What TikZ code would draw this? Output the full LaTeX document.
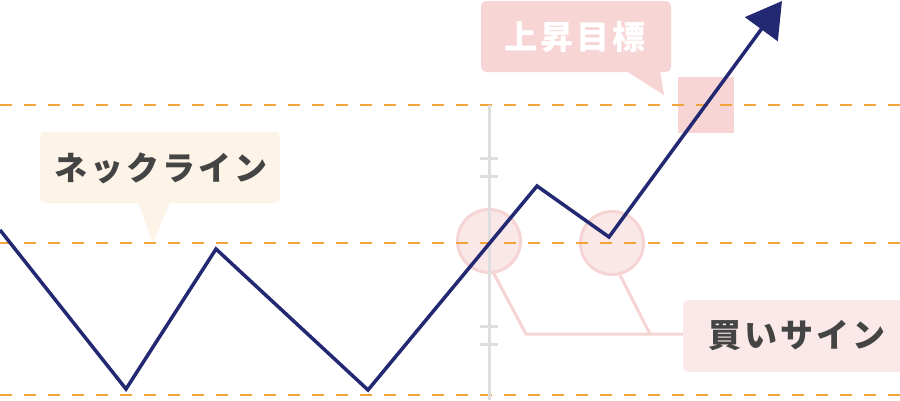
\documentclass[tikz,border=0pt]{standalone}
\usepackage{fontspec}
\newfontfamily\jp{Noto Sans CJK JP}[LetterSpace=9]
\usetikzlibrary{arrows.meta}
\definecolor{navy}{HTML}{222872}
\definecolor{dashorange}{HTML}{F2A33A}
\definecolor{greyline}{HTML}{DEDEDE}
\definecolor{pinkfill}{HTML}{F8D5D5}
\definecolor{pinklight}{HTML}{FBE9E9}
\definecolor{circfill}{HTML}{FAE8E8}
\definecolor{circline}{HTML}{F7D4D4}
\definecolor{creamfill}{HTML}{FDF3E7}
\definecolor{txtgrey}{HTML}{444444}
\tikzset{
  guide/.style={dashorange, line width=2pt, dash pattern=on 12pt off 12pt},
  axisline/.style={greyline, line width=3pt},
  price/.style={navy, line width=3.5pt, line join=miter},
  sigcircle/.style={circle, draw=circline, fill=circfill, line width=3pt, minimum size=63pt, inner sep=0pt},
  leader/.style={circline, line width=3pt, line join=miter},
  lbl/.style={font=\jp\bfseries\fontsize{33}{36}\selectfont, inner sep=0pt},
}
\begin{document}
\begin{tikzpicture}[x=1pt,y=-1pt]
\useasboundingbox (0,0) rectangle (900,400);
% signal circles
\node[sigcircle] (c1) at (489,241) {};
\node[sigcircle] (c2) at (612,243) {};
% target square
\fill[pinkfill] (678,77) rectangle (734,133);
% guide lines
\coordinate (g1a) at (0,105); \coordinate (g1b) at (900,105);
\coordinate (g2a) at (0,243); \coordinate (g2b) at (900,243);
\coordinate (g3a) at (0,395); \coordinate (g3b) at (900,395);
\draw[guide] (g1a) -- (g1b);
\draw[guide] (g2a) -- (g2b);
\draw[guide] (g3a) -- (g3b);
% vertical axis with break marks
\coordinate (va) at (489,105); \coordinate (vb) at (489,400);
\draw[axisline] (va) -- (vb);
\foreach \yy in {158,176,326,344}
  \draw[axisline] (480,\yy) -- (498,\yy);
% leader lines
\coordinate (l1) at (493,272);
\coordinate (l2) at (526,334);
\coordinate (l3) at (650,334);
\coordinate (l4) at (620,275);
\coordinate (l5) at (684,334);
\draw[leader] (l1) -- (l2) -- (l5);
\draw[leader] (l4) -- (l3);
% buy signal label
\fill[pinklight, rounded corners=5pt] (683,300) rectangle (905,372);
\node[lbl, text=txtgrey] (buy) at (797,336) {買いサイン};
% neckline callout
\fill[creamfill, rounded corners=5pt] (40,132) rectangle (280,203);
\fill[creamfill] (138,202) -- (170,202) -- (153,243) -- cycle;
\node[lbl, text=txtgrey] (neck) at (161,168) {ネックライン};
% target callout
\fill[pinkfill, rounded corners=5pt] (481,1) rectangle (671,72);
\fill[pinkfill] (626,71) -- (660,71) -- (664,95) -- cycle;
\node[lbl, text=white] (target) at (575,37) {上昇目標};
% price path
\coordinate (p0) at (0,230);
\coordinate (p1) at (126,389);
\coordinate (p2) at (216,249);
\coordinate (p3) at (368,390);
\coordinate (p4) at (537,186);
\coordinate (p5) at (609,237);
\coordinate (p6) at (782,1);
\draw[price, -{Triangle[length=35pt,width=40pt]}] (p0) -- (p1) -- (p2) -- (p3) -- (p4) -- (p5) -- (p6);
\end{tikzpicture}
\end{document}
